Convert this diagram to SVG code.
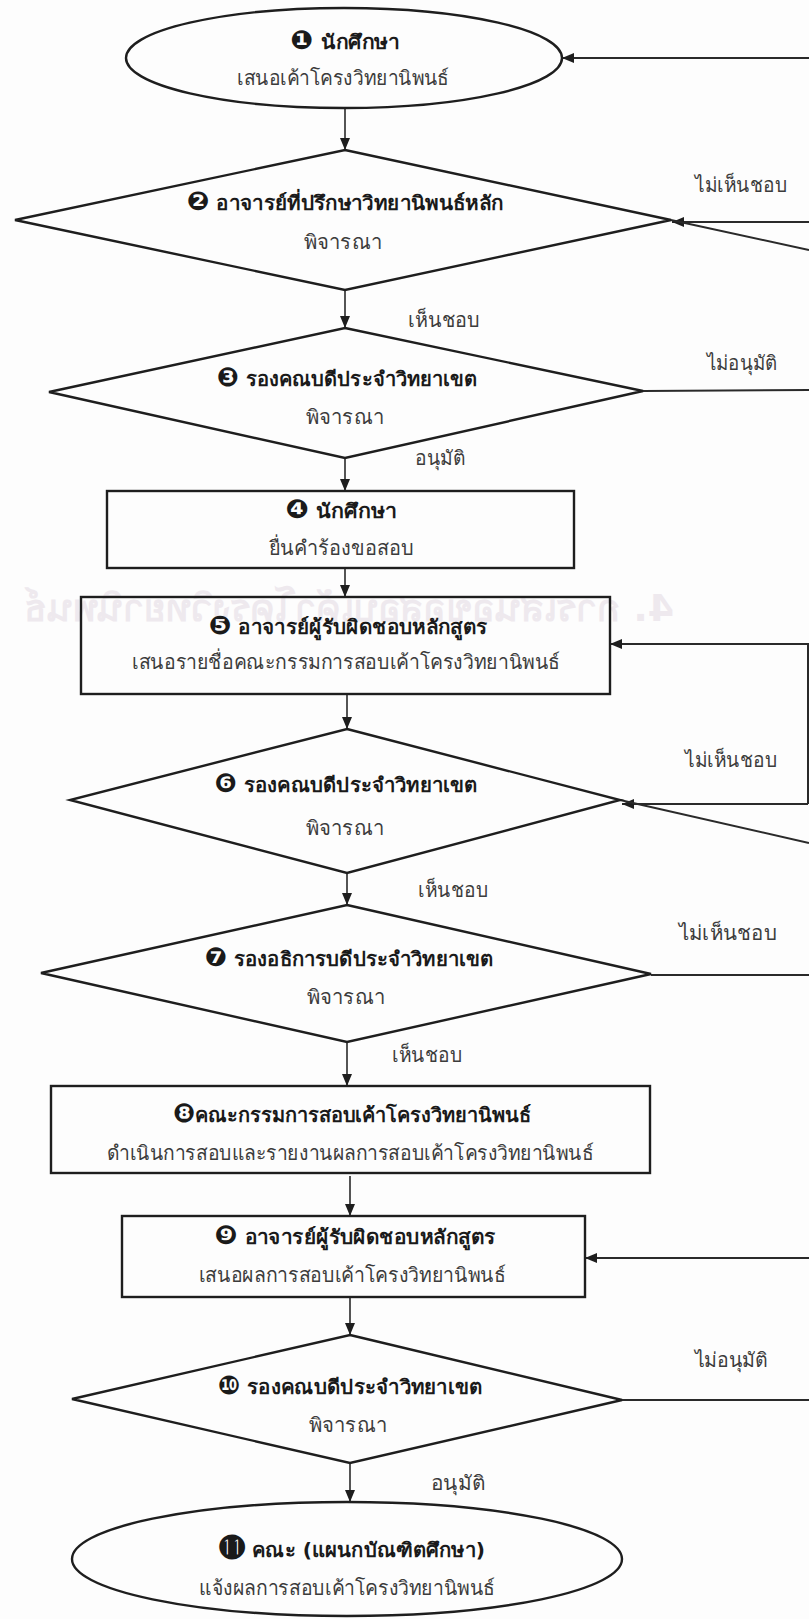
<svg xmlns="http://www.w3.org/2000/svg" width="809" height="1619" viewBox="0 0 809 1619">
  <defs>
    <marker id="arrow" markerUnits="userSpaceOnUse" markerWidth="12" markerHeight="10" refX="12" refY="5" orient="auto">
      <path d="M0,0 L12,5 L0,10 z" fill="#1e1e1e"/>
    </marker>
    <style>
      .shape { fill: none; stroke: #1e1e1e; stroke-width: 2.4; }
      .flow { fill: none; stroke: #2a2a2a; stroke-width: 1.6; }
      .back { fill: none; stroke: #2a2a2a; stroke-width: 2; }
      text { font-family: "DejaVu Sans", "Noto Sans", sans-serif; text-anchor: middle; }
      .title { font-size: 20px; font-weight: bold; fill: #1a1a1a; }
      .num { font-size: 26px; }
      .sub { font-size: 20px; fill: #3c3c3c; }
      .label { font-size: 20px; fill: #3c3c3c; }
      .ghost { font-size: 38px; font-weight: bold; fill: #eee9ee; }
    </style>
  </defs>

  <rect width="809" height="1619" fill="#fdfdfd"/>

  <!-- show-through from the reverse side of the sheet -->
  <text class="ghost" transform="translate(698,0) scale(-1,1)" x="349" y="621" textLength="650" lengthAdjust="spacingAndGlyphs">4. การเสนอขอสอบเค้าโครงวิทยานิพนธ์</text>

  <g id="connectors">
    <!-- main downward flow -->
    <line class="flow" x1="345" y1="108" x2="345" y2="150" marker-end="url(#arrow)"/>
    <line class="flow" x1="345" y1="290" x2="345" y2="328" marker-end="url(#arrow)"/>
    <line class="flow" x1="345" y1="458" x2="345" y2="491" marker-end="url(#arrow)"/>
    <line class="flow" x1="345" y1="568" x2="345" y2="597" marker-end="url(#arrow)"/>
    <line class="flow" x1="347" y1="694" x2="347" y2="729" marker-end="url(#arrow)"/>
    <line class="flow" x1="347" y1="873" x2="347" y2="905" marker-end="url(#arrow)"/>
    <line class="flow" x1="347" y1="1042" x2="347" y2="1086" marker-end="url(#arrow)"/>
    <line class="flow" x1="350" y1="1176" x2="350" y2="1216" marker-end="url(#arrow)"/>
    <line class="flow" x1="350" y1="1297" x2="350" y2="1335" marker-end="url(#arrow)"/>
    <line class="flow" x1="350" y1="1463" x2="350" y2="1502" marker-end="url(#arrow)"/>

    <!-- return paths along the right margin -->
    <line class="back" x1="809" y1="58" x2="562" y2="58" marker-end="url(#arrow)"/>
    <line class="back" x1="809" y1="222" x2="672" y2="222" marker-end="url(#arrow)"/>
    <line class="back" x1="671" y1="220" x2="809" y2="250"/>
    <line class="back" x1="643" y1="391" x2="809" y2="390"/>
    <line class="back" x1="808" y1="804" x2="622" y2="804" marker-end="url(#arrow)"/>
    <polyline class="back" points="808,804 808,644 610,644" marker-end="url(#arrow)"/>
    <line class="back" x1="620" y1="800" x2="809" y2="843"/>
    <line class="back" x1="651" y1="975" x2="809" y2="975"/>
    <line class="back" x1="809" y1="1258" x2="585" y2="1258" marker-end="url(#arrow)"/>
    <line class="back" x1="622" y1="1400" x2="809" y2="1400"/>

    <!-- branch labels -->
    <text class="label" x="741" y="192" textLength="92" lengthAdjust="spacingAndGlyphs">ไม่เห็นชอบ</text>
    <text class="label" x="444" y="327" textLength="72" lengthAdjust="spacingAndGlyphs">เห็นชอบ</text>
    <text class="label" x="742" y="370" textLength="70" lengthAdjust="spacingAndGlyphs">ไม่อนุมัติ</text>
    <text class="label" x="440" y="465" textLength="50" lengthAdjust="spacingAndGlyphs">อนุมัติ</text>
    <text class="label" x="731" y="767" textLength="92" lengthAdjust="spacingAndGlyphs">ไม่เห็นชอบ</text>
    <text class="label" x="453" y="897" textLength="70" lengthAdjust="spacingAndGlyphs">เห็นชอบ</text>
    <text class="label" x="728" y="940" textLength="98" lengthAdjust="spacingAndGlyphs">ไม่เห็นชอบ</text>
    <text class="label" x="427" y="1062" textLength="70" lengthAdjust="spacingAndGlyphs">เห็นชอบ</text>
    <text class="label" x="731" y="1367" textLength="73" lengthAdjust="spacingAndGlyphs">ไม่อนุมัติ</text>
    <text class="label" x="458" y="1490" textLength="54" lengthAdjust="spacingAndGlyphs">อนุมัติ</text>
  </g>

  <g id="node1">
    <ellipse class="shape" cx="344" cy="58" rx="218" ry="50"/>
    <text class="title" x="345" y="49" textLength="109" lengthAdjust="spacingAndGlyphs"><tspan class="num">❶</tspan> นักศึกษา</text>
    <text class="sub" x="343" y="85" textLength="212" lengthAdjust="spacingAndGlyphs">เสนอเค้าโครงวิทยานิพนธ์</text>
  </g>

  <g id="node2">
    <polygon class="shape" points="345,150 671,220 345,290 15,220"/>
    <text class="title" x="345" y="210" textLength="317" lengthAdjust="spacingAndGlyphs"><tspan class="num">❷</tspan> อาจารย์ที่ปรึกษาวิทยานิพนธ์หลัก</text>
    <text class="sub" x="343" y="249" textLength="78" lengthAdjust="spacingAndGlyphs">พิจารณา</text>
  </g>

  <g id="node3">
    <polygon class="shape" points="345,328 643,391 345,458 49,392"/>
    <text class="title" x="347" y="386" textLength="260" lengthAdjust="spacingAndGlyphs"><tspan class="num">❸</tspan> รองคณบดีประจำวิทยาเขต</text>
    <text class="sub" x="345" y="424" textLength="78" lengthAdjust="spacingAndGlyphs">พิจารณา</text>
  </g>

  <g id="node4">
    <rect class="shape" x="107" y="491" width="467" height="77"/>
    <text class="title" x="341" y="518" textLength="111" lengthAdjust="spacingAndGlyphs"><tspan class="num">❹</tspan> นักศึกษา</text>
    <text class="sub" x="341" y="555" textLength="145" lengthAdjust="spacingAndGlyphs">ยื่นคำร้องขอสอบ</text>
  </g>

  <g id="node5">
    <rect class="shape" x="81" y="597" width="529" height="97"/>
    <text class="title" x="348" y="634" textLength="279" lengthAdjust="spacingAndGlyphs"><tspan class="num">❺</tspan> อาจารย์ผู้รับผิดชอบหลักสูตร</text>
    <text class="sub" x="346" y="669" textLength="428" lengthAdjust="spacingAndGlyphs">เสนอรายชื่อคณะกรรมการสอบเค้าโครงวิทยานิพนธ์</text>
  </g>

  <g id="node6">
    <polygon class="shape" points="347,729 620,800 347,873 70,800"/>
    <text class="title" x="346" y="792" textLength="263" lengthAdjust="spacingAndGlyphs"><tspan class="num">❻</tspan> รองคณบดีประจำวิทยาเขต</text>
    <text class="sub" x="345" y="835" textLength="78" lengthAdjust="spacingAndGlyphs">พิจารณา</text>
  </g>

  <g id="node7">
    <polygon class="shape" points="347,905 651,974 347,1042 41,973"/>
    <text class="title" x="349" y="966" textLength="289" lengthAdjust="spacingAndGlyphs"><tspan class="num">❼</tspan> รองอธิการบดีประจำวิทยาเขต</text>
    <text class="sub" x="346" y="1004" textLength="78" lengthAdjust="spacingAndGlyphs">พิจารณา</text>
  </g>

  <g id="node8">
    <rect class="shape" x="51" y="1086" width="599" height="87"/>
    <text class="title" x="352" y="1122" textLength="358" lengthAdjust="spacingAndGlyphs"><tspan class="num">❽</tspan>คณะกรรมการสอบเค้าโครงวิทยานิพนธ์</text>
    <text class="sub" x="350" y="1160" textLength="487" lengthAdjust="spacingAndGlyphs">ดำเนินการสอบและรายงานผลการสอบเค้าโครงวิทยานิพนธ์</text>
  </g>

  <g id="node9">
    <rect class="shape" x="122" y="1216" width="463" height="81"/>
    <text class="title" x="355" y="1244" textLength="281" lengthAdjust="spacingAndGlyphs"><tspan class="num">❾</tspan> อาจารย์ผู้รับผิดชอบหลักสูตร</text>
    <text class="sub" x="352" y="1282" textLength="307" lengthAdjust="spacingAndGlyphs">เสนอผลการสอบเค้าโครงวิทยานิพนธ์</text>
  </g>

  <g id="node10">
    <polygon class="shape" points="350,1335 622,1400 350,1463 72,1399"/>
    <text class="title" x="350" y="1394" textLength="265" lengthAdjust="spacingAndGlyphs"><tspan class="num">❿</tspan> รองคณบดีประจำวิทยาเขต</text>
    <text class="sub" x="348" y="1432" textLength="78" lengthAdjust="spacingAndGlyphs">พิจารณา</text>
  </g>

  <g id="node11">
    <ellipse class="shape" cx="347" cy="1559" rx="275" ry="57"/>
    <text class="title" x="352" y="1557" textLength="266" lengthAdjust="spacingAndGlyphs"><tspan class="num">⓫</tspan> คณะ (แผนกบัณฑิตศึกษา)</text>
    <text class="sub" x="347" y="1595" textLength="296" lengthAdjust="spacingAndGlyphs">แจ้งผลการสอบเค้าโครงวิทยานิพนธ์</text>
  </g>
</svg>
